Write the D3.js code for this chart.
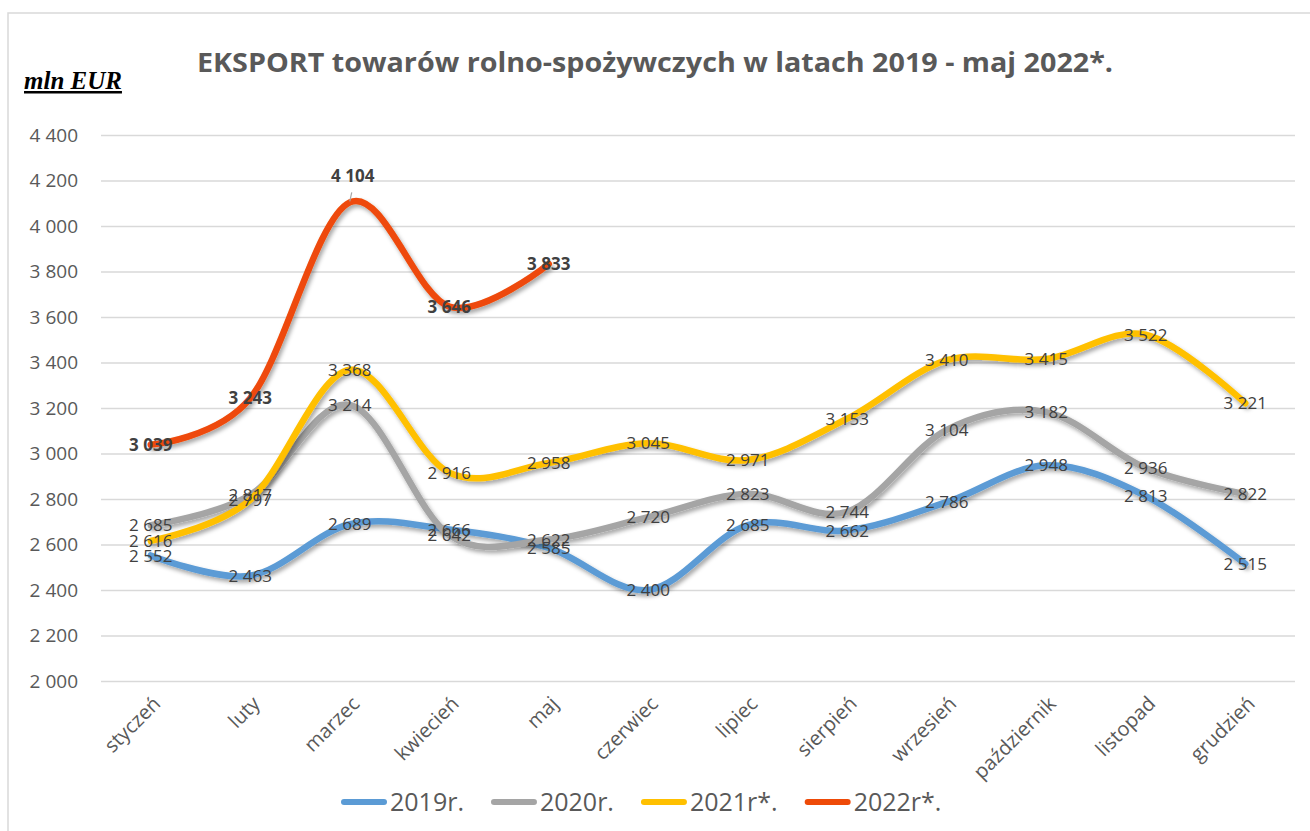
<!DOCTYPE html>
<html><head><meta charset="utf-8">
<script src="https://cdn.jsdelivr.net/npm/d3@7"></script>
<style>
html,body{margin:0;padding:0;background:#fff;}
svg{display:block;}
</style></head>
<body>
<svg id="chart" width="1310" height="831"></svg>
<script>
const months = ["styczeń","luty","marzec","kwiecień","maj","czerwiec","lipiec","sierpień","wrzesień","październik","listopad","grudzień"];
const s2019 = [2552,2463,2689,2666,2585,2400,2685,2662,2786,2948,2813,2515];
const s2020 = [2685,2817,3214,2642,2622,2720,2823,2744,3104,3182,2936,2822];
const s2021 = [2616,2797,3368,2916,2958,3045,2971,3153,3410,3415,3522,3221];
const s2022 = [3039,3243,4104,3646,3833];
const seriesNames = ["2019r.","2020r.","2021r*.","2022r*."];
const seriesColors = ["#5B9BD5","#A5A5A5","#FFC000","#EE4A08"];
const yTicks = [2000,2200,2400,2600,2800,3000,3200,3400,3600,3800,4000,4200,4400];
const titleText = "EKSPORT towarów rolno-spożywczych w latach 2019 - maj 2022*.";
const unitText = "mln EUR";

const series = [s2019,s2020,s2021,s2022].map((v,i)=>({name:seriesNames[i],color:seriesColors[i],values:v,bold:i===3}));

const svg = d3.select("#chart");
const fmt = v => d3.format(",")(v).replace(/,/g," ");

const x = d3.scaleBand().domain(months).range([101,1295]);
const xc = m => x(m) + x.bandwidth()/2;
const y = d3.scaleLinear().domain([2000,4400]).range([681,135]);

const defs = svg.append("defs");
const f = defs.append("filter").attr("id","sh").attr("x","-10%").attr("y","-10%").attr("width","120%").attr("height","130%");
f.append("feDropShadow").attr("dx",2).attr("dy",3).attr("stdDeviation",2).attr("flood-color","#000").attr("flood-opacity",0.35);

svg.append("rect").attr("x",8).attr("y",13).attr("width",1320).attr("height",840)
  .attr("fill","none").attr("stroke","#d9d9d9").attr("stroke-width",1.5);

svg.append("text").attr("x",655).attr("y",72).attr("text-anchor","middle")
  .attr("font-family","Open Sans").attr("font-weight","bold").attr("font-size",26)
  .attr("fill","#595959").attr("textLength",916).attr("lengthAdjust","spacingAndGlyphs").text(titleText);

svg.append("text").attr("x",24).attr("y",89)
  .attr("font-family","Liberation Serif").attr("font-weight","bold").attr("font-style","italic")
  .attr("font-size",25).attr("fill","#000").attr("text-decoration","underline").text(unitText);

const yAxis = d3.axisLeft(y).tickValues(yTicks).tickSize(-(1295-101)).tickFormat(fmt);
const gy = svg.append("g").attr("transform","translate(101,0)").call(yAxis);
gy.select(".domain").remove();
gy.selectAll(".tick line").attr("stroke","#d9d9d9").attr("stroke-width",1.5);
gy.selectAll(".tick text").attr("x",-23).attr("font-family","Open Sans").attr("font-size",19).attr("fill","#595959");

const xAxis = d3.axisBottom(x).tickSize(0).tickFormat(d=>d);
const gx = svg.append("g").attr("transform","translate(0,681)").call(xAxis);
gx.select(".domain").remove();
gx.selectAll(".tick text")
  .attr("font-family","Open Sans").attr("font-size",20).attr("fill","#595959")
  .attr("text-anchor","end").attr("y",0).attr("dy","0.35em")
  .attr("transform","translate(6,19) rotate(-45)");

const line = d3.line().x((d,i)=>xc(months[i])).y(d=>y(d)).curve(d3.curveCatmullRom.alpha(0));
const gl = svg.append("g");
series.forEach(s=>{
  gl.append("path").datum(s.values).attr("d",line).attr("fill","none")
    .attr("stroke",s.color).attr("stroke-width",6.5).attr("stroke-linecap","round").attr("stroke-linejoin","round")
    .attr("filter","url(#sh)");
});

const glab = svg.append("g");
series.forEach(s=>{
  s.values.forEach((v,i)=>{
    const px = xc(months[i]), py = y(v);
    let ly = py;
    if (s.bold && v===4104) {
      ly = py - 26;
      glab.append("line").attr("x1",px+2).attr("y1",py-10).attr("x2",px).attr("y2",py-1)
        .attr("stroke","#a6a6a6").attr("stroke-width",1.2);
    }
    glab.append("text").attr("x",px + (v===4104?3:0)).attr("y",ly).attr("dy","0.36em").attr("text-anchor","middle")
      .attr("font-family","Open Sans").attr("font-size",17).attr("font-weight",s.bold?"bold":"normal")
      .attr("fill","#404040").text(fmt(v));
  });
});

const gleg = svg.append("g");
let lx = 341;
series.forEach(s=>{
  gleg.append("line").attr("x1",lx+3).attr("x2",lx+43).attr("y1",802).attr("y2",802)
    .attr("stroke",s.color).attr("stroke-width",6).attr("stroke-linecap","round");
  const t = gleg.append("text").attr("x",lx+49).attr("y",811)
    .attr("font-family","Open Sans").attr("font-size",25).attr("fill","#595959").text(s.name);
  lx += 49 + t.node().getComputedTextLength() + 27;
});
</script>
</body></html>
